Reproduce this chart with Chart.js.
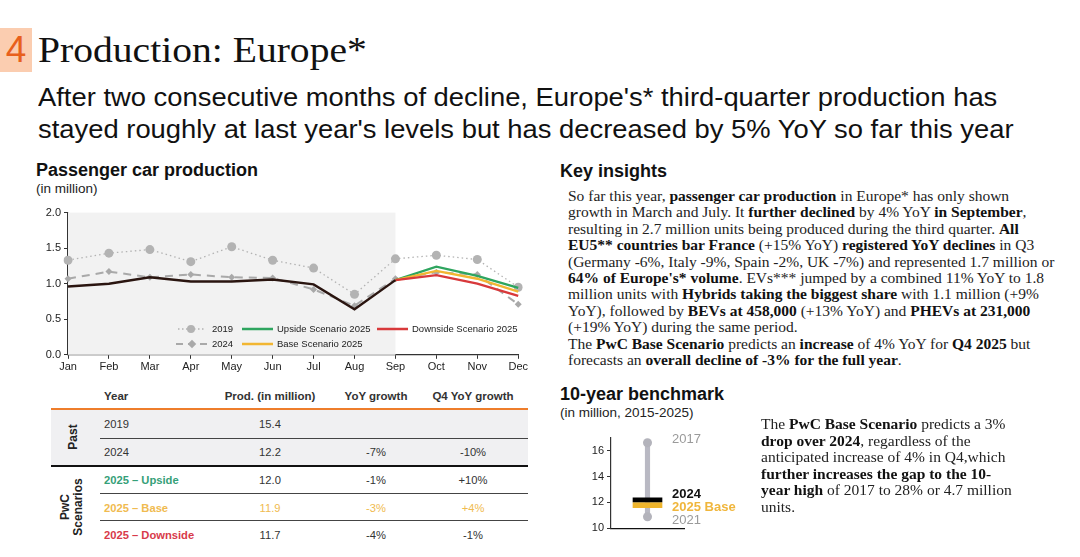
<!DOCTYPE html>
<html lang="en">
<head>
    <meta charset="UTF-8">
    <title>Production: Europe*</title>
    <script src="https://cdn.jsdelivr.net/npm/chart.js"></script>
    <style>
        body { margin: 0; background: #fff; }
        #slide { position: relative; width: 1080px; height: 557px; overflow: hidden; font-family: "Liberation Sans", Arial, sans-serif; color: #111; }
        .abs { position: absolute; white-space: nowrap; }
        .num { left: 0; top: 28px; width: 32px; height: 44px; background: #fbcdb0; color: #e8601c; font: 37px/44px "Liberation Sans", sans-serif; text-align: center; }
        .title { left: 38px; top: 26px; font: 36px/48px "Liberation Serif", serif; transform: scaleX(1.1); transform-origin: left; }
        .sub { left: 38px; top: 81px; font: 25px/32px "Liberation Sans", sans-serif; color: #111; transform: scaleX(1.095); transform-origin: left; }
        .h2 { font: bold 18px/20px "Liberation Sans", sans-serif; color: #111; }
        .unit { font: 13.5px/15px "Liberation Sans", sans-serif; color: #222; }
        .legend { font: 9.5px/12px "Liberation Sans", sans-serif; color: #222; }
        .legend svg { position: absolute; }
        .para { font: 15.5px/16.4px "Liberation Serif", serif; color: #222; }
        .para b { color: #111; }
        .cell { font: 11.2px/14px "Liberation Sans", sans-serif; color: #333; }
        .hdr { font: bold 11.5px/14px "Liberation Sans", sans-serif; color: #333; }
        .rot { font: bold 12px/13px "Liberation Sans", sans-serif; color: #222; transform: translate(-50%, -50%) rotate(-90deg); text-align: center; }
    </style>
</head>
<body>
<div id="slide">
    <div class="abs num">4</div>
    <div class="abs title">Production: Europe*</div>
    <div class="abs sub">After two consecutive months of decline, Europe's* third-quarter production has<br>stayed roughly at last year's levels but has decreased by 5% YoY so far this year</div>

    <div class="abs h2" style="left:36px;top:160px">Passenger car production</div>
    <div class="abs unit" style="left:36px;top:181px">(in million)</div>
    <div style="position:absolute;left:30px;top:203px;width:500px;height:173px"><canvas id="main"></canvas></div>

    <div class="legend">
        <svg style="left:177px;top:323px" width="28" height="12"><line x1="1" y1="6" x2="27" y2="6" stroke="#b3b3b3" stroke-width="1.3" stroke-dasharray="1.5,2.5"/><circle cx="14" cy="6" r="4" fill="#b3b3b3"/></svg>
        <span class="abs" style="left:212px;top:323px">2019</span>
        <svg style="left:242px;top:323px" width="31" height="12"><line x1="0" y1="6" x2="31" y2="6" stroke="#2ea55f" stroke-width="2.5"/></svg>
        <span class="abs" style="left:277px;top:323px">Upside Scenario 2025</span>
        <svg style="left:377px;top:323px" width="31" height="12"><line x1="0" y1="6" x2="31" y2="6" stroke="#d8393b" stroke-width="2.5"/></svg>
        <span class="abs" style="left:412px;top:323px">Downside Scenario 2025</span>
        <svg style="left:176px;top:338px" width="32" height="12"><line x1="0" y1="6" x2="32" y2="6" stroke="#a9a9a9" stroke-width="2" stroke-dasharray="7,5"/><rect x="13" y="3" width="6" height="6" fill="#a9a9a9" transform="rotate(45 16 6)"/></svg>
        <span class="abs" style="left:212px;top:338px">2024</span>
        <svg style="left:242px;top:338px" width="31" height="12"><line x1="0" y1="6" x2="31" y2="6" stroke="#f2b632" stroke-width="2.5"/></svg>
        <span class="abs" style="left:277px;top:338px">Base Scenario 2025</span>
    </div>

    <div id="table"></div>

    <div class="abs h2" style="left:560px;top:161px">Key insights</div>
    <div class="abs para" style="left:568px;top:188px">
        So far this year, <b>passenger car production</b> in Europe* has only shown<br>
        growth in March and July. It <b>further declined</b> by 4% YoY <b>in September</b>,<br>
        resulting in 2.7 million units being produced during the third quarter. <b>All</b><br>
        <b>EU5** countries bar France</b> (+15% YoY) <b>registered YoY declines</b> in Q3<br>
        (Germany -6%, Italy -9%, Spain -2%, UK -7%) and represented 1.7 million or<br>
        <b>64% of Europe's* volume</b>. EVs*** jumped by a combined 11% YoY to 1.8<br>
        million units with <b>Hybrids taking the biggest share</b> with 1.1 million (+9%<br>
        YoY), followed by <b>BEVs at 458,000</b> (+13% YoY) and <b>PHEVs at 231,000</b><br>
        (+19% YoY) during the same period.<br>
        The <b>PwC Base Scenario</b> predicts an <b>increase</b> of 4% YoY for <b>Q4 2025</b> but<br>
        forecasts an <b>overall decline of -3% for the full year</b>.
    </div>

    <div class="abs h2" style="left:560px;top:384px">10-year benchmark</div>
    <div class="abs unit" style="left:560px;top:405px">(in million, 2015-2025)</div>
    <div style="position:absolute;left:576px;top:428px;width:115px;height:110px"><canvas id="bench"></canvas></div>
    <div class="abs" style="left:672px;top:432px;font:13px/14px 'Liberation Sans',sans-serif;color:#9a9a9a">2017</div>
    <div class="abs" style="left:672px;top:487px;font:bold 13px/14px 'Liberation Sans',sans-serif;color:#111">2024</div>
    <div class="abs" style="left:672px;top:500px;font:bold 13px/14px 'Liberation Sans',sans-serif;color:#f0b63c">2025 Base</div>
    <div class="abs" style="left:672px;top:513px;font:13px/14px 'Liberation Sans',sans-serif;color:#9a9a9a">2021</div>
    <div class="abs para" style="left:761px;top:416px;font-size:15.5px;line-height:16.5px">
        The <b>PwC Base Scenario</b> predicts a 3%<br>
        <b>drop over 2024</b>, regardless of the<br>
        anticipated increase of 4% in Q4,which<br>
        <b>further increases the gap to the 10-</b><br>
        <b>year high</b> of 2017 to 28% or 4.7 million<br>
        units.
    </div>
</div>
<script>
    // monthly production, million units
    const months = ['Jan', 'Feb', 'Mar', 'Apr', 'May', 'Jun', 'Jul', 'Aug', 'Sep', 'Oct', 'Nov', 'Dec'];
    const prod2019 = [1.33, 1.43, 1.48, 1.31, 1.52, 1.33, 1.22, 0.85, 1.35, 1.40, 1.34, 0.95];
    const prod2024 = [1.07, 1.17, 1.09, 1.13, 1.09, 1.08, 0.92, 0.69, 1.07, 1.16, 1.13, 0.71];
    const prod2025 = [0.96, 1.00, 1.09, 1.03, 1.03, 1.06, 0.99, 0.64, 1.05, null, null, null];
    const upside2025 = [null, null, null, null, null, null, null, null, 1.05, 1.24, 1.11, 0.94];
    const base2025 = [null, null, null, null, null, null, null, null, 1.05, 1.18, 1.07, 0.89];
    const downside2025 = [null, null, null, null, null, null, null, null, 1.05, 1.12, 1.00, 0.83];
    const yTicks = [0, 0.5, 1.0, 1.5, 2.0];
    const lastActual = 'Sep';

    // 10-year benchmark
    const benchLow = 10.9;   // 2021
    const benchHigh = 16.6;  // 2017
    const bench2024 = 12.2;
    const bench2025 = 11.9;
    const benchTicks = [10, 12, 14, 16];

    // table
    const tableRows = [
        ['2019', '15.4', '', '', '#333'],
        ['2024', '12.2', '-7%', '-10%', '#333'],
        ['2025 – Upside', '12.0', '-1%', '+10%', '#35a078'],
        ['2025 – Base', '11.9', '-3%', '+4%', '#f0bb50'],
        ['2025 – Downside', '11.7', '-4%', '-1%', '#d83a4a']
    ];

    const shadePlugin = {
        id: 'shade',
        beforeDatasetsDraw(chart) {
            const {ctx, chartArea, scales} = chart;
            const x0 = scales.x.getPixelForValue(0);
            const x1 = scales.x.getPixelForValue(months.indexOf(lastActual));
            ctx.save();
            ctx.fillStyle = '#f2f2f2';
            ctx.fillRect(x0, chartArea.top, x1 - x0, chartArea.bottom - chartArea.top);
            ctx.restore();
        }
    };

    const tickFont = {family: 'Liberation Sans', size: 11};
    new Chart(document.getElementById('main'), {
        type: 'line',
        data: {
            labels: months,
            datasets: [
                {label: '2025', data: prod2025, borderColor: '#2a1510', borderWidth: 2.4, pointRadius: 0, order: 0},
                {label: 'Upside Scenario 2025', data: upside2025, borderColor: '#2ea55f', borderWidth: 2.4, pointRadius: 0, order: 3},
                {label: 'Base Scenario 2025', data: base2025, borderColor: '#f2b632', borderWidth: 2.4, pointRadius: 0, order: 2},
                {label: 'Downside Scenario 2025', data: downside2025, borderColor: '#d8393b', borderWidth: 2.4, pointRadius: 0, order: 1},
                {label: '2024', data: prod2024, borderColor: '#a9a9a9', borderWidth: 2, borderDash: [8, 6], pointStyle: 'rectRot', pointRadius: 3.5, pointBackgroundColor: '#a9a9a9', pointBorderWidth: 0, order: 4},
                {label: '2019', data: prod2019, borderColor: '#b3b3b3', borderWidth: 1.3, borderDash: [1.5, 3], pointStyle: 'circle', pointRadius: 4.5, pointBackgroundColor: '#b3b3b3', pointBorderWidth: 0, order: 5}
            ]
        },
        options: {
            responsive: true,
            maintainAspectRatio: false,
            animation: false,
            layout: {padding: {top: 7, right: 11, left: 0, bottom: 0}},
            plugins: {legend: {display: false}, tooltip: {enabled: false}},
            scales: {
                x: {
                    grid: {display: true, drawOnChartArea: false, drawTicks: true, tickLength: 4, color: '#333'},
                    border: {color: '#333', width: 1.2},
                    ticks: {color: '#222', font: tickFont, padding: 2, maxRotation: 0, autoSkip: false}
                },
                y: {
                    min: 0, max: 2,
                    afterBuildTicks: axis => { axis.ticks = yTicks.map(v => ({value: v})); },
                    afterFit: axis => { axis.width = 38; },
                    grid: {display: true, drawOnChartArea: false, tickLength: 4, color: '#333'},
                    border: {color: '#333', width: 1.2},
                    ticks: {color: '#222', font: tickFont, padding: 3, callback: v => v.toFixed(1)}
                }
            }
        },
        plugins: [shadePlugin]
    });

    new Chart(document.getElementById('bench'), {
        type: 'bar',
        data: {
            labels: ['Europe'],
            datasets: [
                {type: 'line', data: [benchHigh], showLine: false, pointRadius: 4.5, pointBackgroundColor: '#b3b3bb', pointBorderWidth: 0},
                {type: 'line', data: [benchLow], showLine: false, pointRadius: 4.5, pointBackgroundColor: '#b3b3bb', pointBorderWidth: 0},
                {data: [[bench2024 - 0.15, bench2024 + 0.15]], backgroundColor: '#000', barThickness: 29, grouped: false, order: 1},
                {data: [[bench2025 - 0.3, bench2025 + 0.1]], backgroundColor: '#eeb42c', barThickness: 29, grouped: false, order: 2},
                {data: [[benchLow, benchHigh]], backgroundColor: '#b9b9c3', barThickness: 4.5, grouped: false, order: 3}
            ]
        },
        options: {
            responsive: true,
            maintainAspectRatio: false,
            animation: false,
            layout: {padding: {top: 5, right: 7, left: 0, bottom: 0}},
            plugins: {legend: {display: false}, tooltip: {enabled: false}},
            scales: {
                x: {
                    offset: true,
                    grid: {display: false},
                    border: {color: '#111', width: 1.2},
                    ticks: {display: false}
                },
                y: {
                    min: 10, max: 17,
                    afterBuildTicks: axis => { axis.ticks = benchTicks.map(v => ({value: v})); },
                    afterFit: axis => { axis.width = 35; },
                    grid: {display: true, drawOnChartArea: false, tickLength: 4, color: '#333'},
                    border: {color: '#333', width: 1.2},
                    ticks: {color: '#222', font: tickFont, padding: 3}
                }
            }
        }
    });

    // table built from rows
    const tbl = document.getElementById('table');
    function put(html, css, cls) {
        const d = document.createElement('div');
        d.className = 'abs ' + (cls || 'cell');
        d.style.cssText = css;
        d.innerHTML = html;
        tbl.appendChild(d);
    }
    const colC = [270, 376, 473];
    put('', 'left:51px;top:409px;width:477px;height:57px;background:#f0f0f2');
    put('Year', 'left:104px;top:389px', 'hdr');
    put('Prod. (in million)', 'left:' + (colC[0] - 60) + 'px;width:120px;text-align:center;top:389px', 'hdr');
    put('YoY growth', 'left:' + (colC[1] - 60) + 'px;width:120px;text-align:center;top:389px', 'hdr');
    put('Q4 YoY growth', 'left:' + (colC[2] - 60) + 'px;width:120px;text-align:center;top:389px', 'hdr');
    put('', 'left:51px;top:408px;width:477px;height:2px;background:#ee7d2b');
    put('', 'left:100px;top:438px;width:428px;height:1px;background:#444');
    put('', 'left:51px;top:465px;width:477px;height:2px;background:#111');
    put('', 'left:100px;top:493px;width:428px;height:1px;background:#444');
    put('', 'left:100px;top:520px;width:428px;height:1px;background:#444');
    const rowY = [424, 452, 480, 508, 535];
    tableRows.forEach((r, i) => {
        const y = rowY[i] - 7;
        const c = r[4];
        const bold = i >= 2 ? 'font-weight:bold;' : '';
        const valColor = i === 3 ? 'color:' + c + ';' : '';
        put(r[0], 'left:104px;top:' + y + 'px;color:' + c + ';' + bold);
        r.slice(1, 4).forEach((v, j) => {
            put(v, 'left:' + (colC[j] - 40) + 'px;width:80px;text-align:center;top:' + y + 'px;' + valColor);
        });
    });
    put('Past', 'left:73px;top:437px', 'rot');
    put('PwC<br>Scenarios', 'left:72px;top:507px', 'rot');
</script>
</body>
</html>
